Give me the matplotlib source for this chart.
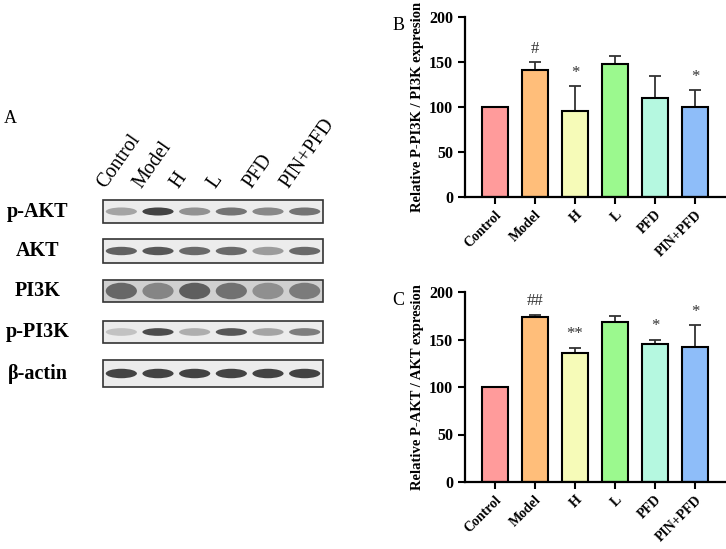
import matplotlib
matplotlib.use("Agg")
import matplotlib.pyplot as plt
from matplotlib.patches import Rectangle, Ellipse
import numpy as np

plt.rcParams['font.family'] = 'Liberation Serif'

groups = ["Control", "Model", "H", "L", "PFD", "PIN+PFD"]
colors = ["#FF9B9B", "#FFBE7A", "#F6FBB8", "#9BF98E", "#B5F8E0", "#8EBDF9"]
pi3k_mean = [100, 141, 96, 148, 110, 100]
pi3k_err = [0, 9, 27, 9, 24, 19]
pi3k_marks = ["", "#", "*", "", "", "*"]
akt_mean = [100, 174, 136, 168, 145, 142]
akt_err = [0, 2, 5, 7, 5, 23]
akt_marks = ["", "##", "**", "", "*", "*"]

blot_rows = ["p-AKT", "AKT", "PI3K", "p-PI3K", "β-actin"]
# band darkness (0..1) per lane
blot_dark = [
    [0.45, 0.95, 0.55, 0.7, 0.6, 0.7],
    [0.8, 0.85, 0.75, 0.75, 0.5, 0.75],
    [0.75, 0.6, 0.8, 0.7, 0.55, 0.65],
    [0.3, 0.9, 0.4, 0.85, 0.45, 0.65],
    [0.95, 0.95, 0.95, 0.95, 0.95, 0.95],
]

fig = plt.figure(figsize=(7.26, 5.49), dpi=100)

# ---- Panel A (blot schematic), pixel coordinates
axA = fig.add_axes([0, 0, 0.5, 1])
axA.set_xlim(0, 363); axA.set_ylim(549, 0); axA.axis('off')
axA.text(4, 123, "A", fontsize=13)
box_x0, box_x1 = 103, 323
row_y = [(200, 223), (239, 263), (280, 302), (321, 343), (360, 387)]
lane_w = (box_x1 - box_x0) / len(groups)
for r, (name, (y0, y1)) in enumerate(zip(blot_rows, row_y)):
    bg = "#d0d0d0" if name == "PI3K" else "#ececec"
    axA.add_patch(Rectangle((box_x0, y0), box_x1 - box_x0, y1 - y0, facecolor=bg,
                            edgecolor="#333333", lw=1.2))
    axA.text(38, (y0 + y1) / 2, name, ha='center', va='center', fontsize=14.5, fontweight='bold')
    for i, d in enumerate(blot_dark[r]):
        cx = box_x0 + lane_w * (i + 0.5)
        h = (y1 - y0) * (0.75 if name == "PI3K" else 0.35)
        g = 1 - d * 0.85
        axA.add_patch(Ellipse((cx, (y0 + y1) / 2), lane_w * 0.85, h,
                              facecolor=(g, g, g), edgecolor='none', alpha=0.9))
for i, gname in enumerate(groups):
    cx = box_x0 + lane_w * (i + 0.5)
    axA.text(cx - 12, 192, gname, rotation=55, ha='left', va='bottom',
             fontsize=14.5, rotation_mode='anchor')

def bar_panel(rect, means, errs, marks, ylabel, letter):
    ax = fig.add_axes(rect)
    x = np.arange(len(groups))
    ax.bar(x, means, width=0.64, color=colors, edgecolor='black', lw=1.5, zorder=2)
    ax.errorbar(x, means, yerr=[np.zeros(len(errs)), errs], fmt='none',
                ecolor='#333333', capsize=4, elinewidth=1.3, capthick=1.3, zorder=1)
    for xi, m, e, mk in zip(x, means, errs, marks):
        if mk:
            ax.text(xi, m + e + 6, mk, ha='center', va='bottom', fontsize=12, color='#333333')
    ax.set_ylim(0, 200)
    ax.set_xlim(-0.75, 5.75)
    ax.set_yticks([0, 50, 100, 150, 200])
    ax.set_xticks(x)
    ax.set_xticklabels(groups, rotation=45, ha='right', rotation_mode='anchor',
                       fontsize=10, fontweight='bold')
    for lbl in ax.get_yticklabels():
        lbl.set_fontweight('bold'); lbl.set_fontsize(11.5)
    ax.spines['top'].set_visible(False); ax.spines['right'].set_visible(False)
    ax.spines['left'].set_linewidth(1.6); ax.spines['bottom'].set_linewidth(1.6)
    ax.tick_params(width=1.5, length=5)
    ax.tick_params(axis='x', pad=3)
    ax.set_ylabel(ylabel, fontsize=10.5, fontweight='bold', labelpad=4)
    ax.text(-0.28, 1.0, letter, transform=ax.transAxes, fontsize=13, va='top')
    return ax

W, H = 726, 549
bar_panel([465 / W, 1 - 197 / H, 260 / W, 180 / H], pi3k_mean, pi3k_err, pi3k_marks,
          "Relative P-PI3K / PI3K expresion", "B")
bar_panel([465 / W, 1 - 482 / H, 260 / W, 190 / H], akt_mean, akt_err, akt_marks,
          "Relative P-AKT / AKT expresion", "C")

fig.savefig("out.png", dpi=100)
